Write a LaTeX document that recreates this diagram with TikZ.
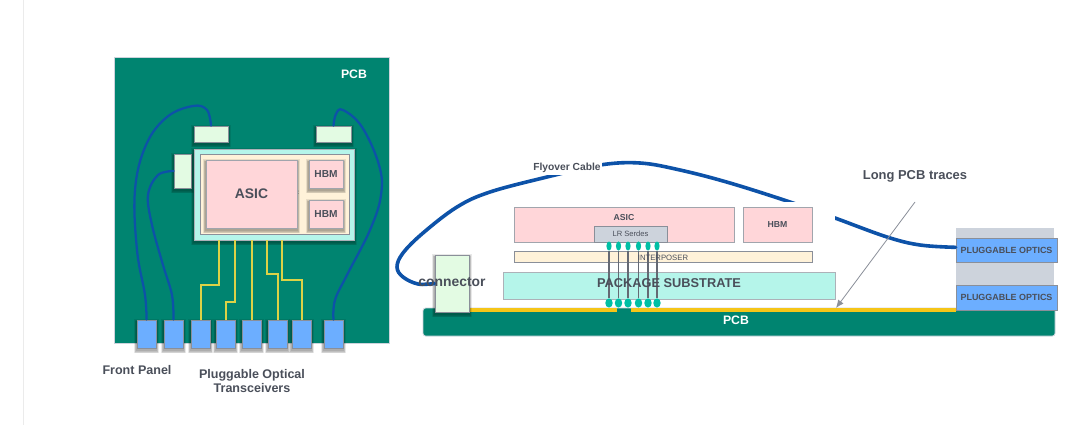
\documentclass[tikz,border=0pt]{standalone}
\usepackage{fontspec}
\setmainfont{Liberation Sans}
\usetikzlibrary{arrows.meta,shapes.geometric}

\definecolor{pcbgreen}{HTML}{008470}
\definecolor{pkgaqua}{HTML}{B5F5EA}
\definecolor{ipcream}{HTML}{FFF2D9}
\definecolor{diepink}{HTML}{FFD6D9}
\definecolor{connmint}{HTML}{E3FBE3}
\definecolor{optblue}{HTML}{6CAEFF}
\definecolor{cableblue}{HTML}{0D52A8}
\definecolor{edgegray}{HTML}{8A8F99}
\definecolor{slategray}{HTML}{CDD3DC}
\definecolor{inkgray}{HTML}{4A4F5A}
\definecolor{traceyellow}{HTML}{DCD246}
\definecolor{padyellow}{HTML}{F5C518}
\definecolor{bumpteal}{HTML}{00BFA5}

% box from its two corners, given in pixels: name, style, x0, y0, x1, y1, text
\newcommand{\DrawBox}[7]{
    \node (#1) [#2, minimum width={(#5-#3)*0.75pt}, minimum height={(#6-#4)*0.75pt}]
        at ({(#3+#5)/2}, {(#4+#6)/2}) {#7};
}

\begin{document}
\begin{tikzpicture}[
        x=0.75pt, y=-0.75pt,
        part/.style={rectangle, draw=edgegray, line width=0.6pt, inner sep=0pt, align=center, text=inkgray},
        softedge/.style={draw=black, draw opacity=0.09, line width=#1, transform canvas={yshift=-1.6pt}},
        lifted/.style={preaction={softedge=5pt}, preaction={softedge=3.6pt}, preaction={softedge=2.4pt}, preaction={softedge=1.2pt}},
        board/.style={part, fill=pcbgreen, draw=slategray},
        package/.style={part, fill=pkgaqua, draw=edgegray!70},
        interposer/.style={part, fill=ipcream},
        die/.style={part, fill=diepink, draw=edgegray!80},
        conn/.style={part, fill=connmint},
        optic/.style={part, fill=optblue, draw=edgegray},
        cable/.style={cableblue, line cap=round},
        trace/.style={traceyellow, line width=1.5pt},
        pad/.style={rectangle, fill=padyellow, inner sep=0pt},
        topbump/.style={ellipse, fill=bumpteal, inner sep=0pt, minimum width=3.9pt, minimum height=6.8pt},
        lowbump/.style={ellipse, fill=bumpteal, inner sep=0pt, minimum width=5.6pt, minimum height=6.8pt},
        tag/.style={text=inkgray, inner sep=0pt, align=center, font=\fontsize{9.4}{11.2}\selectfont\bfseries},
        pcbtag/.style={text=white, inner sep=0pt, font=\fontsize{9.2}{11}\selectfont\bfseries}
    ]
  \useasboundingbox (0,0) rectangle (1080,425);
  \fill[white] (0,0) rectangle (1080,425);
  \draw[black!8, line width=0.6pt] (23,0) -- (23,425);

  %%% Top view
  % Board and everything sitting on it
  \DrawBox{topboard}{board}{114}{57}{389}{343}{}
  \node (toppcb) [pcbtag] at (354,74) {PCB};
  \DrawBox{connnw}{conn, lifted}{194}{126}{228}{142}{}
  \DrawBox{connne}{conn, lifted}{316}{126}{351}{142}{}
  \DrawBox{connw}{conn, lifted}{174}{154}{191}{188}{}
  \DrawBox{toppkg}{package, lifted}{194}{149}{354}{240}{}
  \DrawBox{topip}{interposer}{200}{154}{349}{234}{}
  \node (topmark) [tag, font=\fontsize{5}{6}\selectfont\bfseries] at (298,193) {:};
  \DrawBox{topasic}{die, lifted, font=\fontsize{10.4}{12}\selectfont\bfseries}{206}{160}{297}{228}{ASIC}
  \DrawBox{tophbma}{die, lifted, font=\fontsize{7.6}{9}\selectfont\bfseries}{309}{160}{343}{188}{HBM}
  \DrawBox{tophbmb}{die, lifted, font=\fontsize{7.6}{9}\selectfont\bfseries}{309}{200}{343}{228}{HBM}

  % Row of transceivers on the front panel
  \foreach \n/\xa/\xb in {1/137/156, 2/164/183, 3/191/210, 4/216/235, 5/242/261, 6/268/287, 7/292/311, 8/324/343} {
      \DrawBox{xcvr\n}{optic, lifted}{\xa}{320}{\xb}{348}{}
  }

  % Electrical traces out of the package
  \foreach \n/\m/\x/\y in {1/3/219/285, 2/4/235/302, 4/6/267/274, 5/7/282/280} {
      \coordinate (tap\n) at (\x,240);
      \draw[trace] (tap\n) -- (\x,\y) -| (xcvr\m.north);
  }
  \draw[trace] (toppkg.south -| xcvr5.north) -- (xcvr5.north);

  % Flyover cables to the front panel
  \draw[cable, line width=1.7pt] plot [smooth, tension=0.65] coordinates
      {(connnw.north) (207,110) (193,106) (167,117) (146,145) (135,190) (137,250) (145,295) (xcvr1.north)};
  \draw[cable, line width=1.7pt] plot [smooth, tension=0.6] coordinates
      {(connw.west) (158,175) (148,195) (152,225) (163,265) (172,295) (xcvr2.north)};
  \draw[cable, line width=1.7pt] plot [smooth, tension=0.65] coordinates
      {(connne.north) (336,114) (343,110) (362,127) (379,165) (381,195) (370,230) (347,275) (335,300) (xcvr8.north)};

  \node (frontpanel) [tag] at (137,370) {Front Panel};
  \node (pluggable) [tag] at (252,381) {Pluggable Optical\\Transceivers};

  %%% Side view
  % Board with the optics cage at its far end
  \DrawBox{optcage}{rectangle, fill=slategray, inner sep=0pt}{956}{228}{1054}{310}{}
  \node (sideboard) [board, rounded corners=2pt, minimum width=474pt, minimum height=21pt] at (739,322) {};
  \node (sidepcb) [pcbtag] at (736,320) {PCB};
  \DrawBox{pada}{pad}{469}{308}{617}{312}{}
  \DrawBox{padb}{pad}{631}{308}{956}{312}{}
  \DrawBox{optica}{optic, font=\fontsize{6.7}{8}\selectfont\bfseries}{956}{238}{1057}{262}{PLUGGABLE OPTICS}
  \DrawBox{opticb}{optic, font=\fontsize{6.7}{8}\selectfont\bfseries}{956}{285}{1057}{310}{PLUGGABLE OPTICS}
  \DrawBox{sideconn}{conn, lifted}{435}{255}{469}{312}{}

  % Cable runs behind the white package area
  \draw[cable, line width=2.7pt] plot [smooth, tension=0.6] coordinates
      {(sideconn.west) (418,284) (403,277) (397,267) (403,253) (423,233) (457,207) (490,192) (547,177) (600,165) (640,163) (680,170) (730,183) (793,203) (835,218) (887,237) (920,245) ([yshift=2pt]optica.west)};
  \node (flyover) [tag, fill=white, inner xsep=1pt, inner ysep=1.5pt, font=\fontsize{7.7}{10}\selectfont\bfseries] at (567,168) {Flyover Cable};
  \fill[white] (503,202) rectangle (835,272);

  % Package stack
  \DrawBox{sideasic}{die}{514}{207}{734}{242}{}
  \node (sideasictag) [tag, font=\fontsize{6.5}{8}\selectfont\bfseries] at (624,218) {ASIC};
  \DrawBox{serdes}{part, fill=slategray, font=\fontsize{5.7}{7}\selectfont}{594}{226}{667}{242}{LR Serdes}
  \DrawBox{sidehbm}{die, font=\fontsize{6.5}{8}\selectfont\bfseries}{743}{207}{812}{242}{HBM}
  \DrawBox{sideip}{interposer}{514}{251}{812}{262}{}
  \DrawBox{substrate}{package}{503}{272}{835}{299}{}

  % Bumps and vias from the die down to the board
  \foreach \n/\x in {1/609, 2/618.5, 3/628, 4/638.5, 5/648, 6/657} {
      \node (bumpt\n) [topbump] at (\x,246) {};
      \node (bumpb\n) [lowbump] at (\x,303) {};
      \draw[inkgray!85, line width=0.8pt] (bumpt\n) -- (bumpb\n);
  }

  \node (iptag) [text=inkgray, inner sep=0pt, font=\fontsize{5.8}{7}\selectfont] at (663,258) {INTERPOSER};
  \node (subtag) [tag, font=\fontsize{9.6}{11}\selectfont\bfseries] at (669,283) {PACKAGE SUBSTRATE};
  \node (conntag) [tag, font=\fontsize{10.4}{12}\selectfont\bfseries] at (452,282) {connector};

  % Callout pointing at the long board traces
  \node (longtraces) [tag, font=\fontsize{9.7}{12}\selectfont\bfseries] at (915,176) {Long PCB traces};
  \coordinate (calloutstart) at (915,202);
  \coordinate (calloutend) at (836,308);
  \draw[edgegray, line width=0.6pt, -{Latex[length=6pt, width=5pt]}] (calloutstart) -- (calloutend);
\end{tikzpicture}
\end{document}
